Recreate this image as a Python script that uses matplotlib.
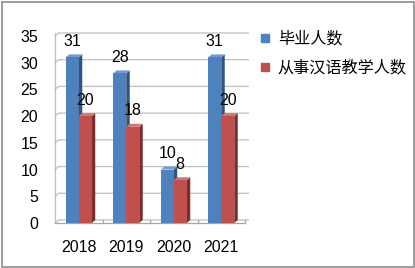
import matplotlib.pyplot as plt
from matplotlib.patches import Rectangle
from matplotlib.lines import Line2D

plt.rcParams['font.family'] = ['Liberation Sans', 'Noto Sans CJK SC']

years = ['2018', '2019', '2020', '2021']
graduates = [31, 28, 10, 31]
teachers = [20, 18, 8, 20]
series_names = ['毕业人数', '从事汉语教学人数']

W, H = 415, 268
fig = plt.figure(figsize=(W / 100, H / 100), dpi=100)
fig.patch.set_facecolor('white')

# plot area in pixels: x 55..245, y 223 (0) .. 36 (35)
ax = fig.add_axes([55 / W, 1 - 223 / H, 190 / W, 187 / H])
ax.set_xlim(-0.5, 3.5)
ax.set_ylim(0, 35)
for s in ax.spines.values():
    s.set_visible(False)

px_x = 4 / 190.0
px_y = 35 / 187.0
dx = 3.5 * px_x
dy = 3 * px_y
w = 13 * px_x

grid_c = '#bfbfbf'
# back wall gridlines and left wall
for v in range(0, 36, 5):
    ax.plot([-0.5, -0.5 + dx, 3.5 + dx], [v, v + dy, v + dy], color=grid_c, lw=0.9,
            clip_on=False, zorder=1)
ax.plot([-0.5, -0.5], [0, 35 + dy], color=grid_c, lw=0.9, clip_on=False, zorder=1)
ax.plot([-0.5, 3.5], [0, 0], color='#a6a6a6', lw=0.9, clip_on=False, zorder=1)
for b in [0.5, 1.5, 2.5, 3.5]:
    ax.plot([b, b], [0, 0.6], color='#a6a6a6', lw=0.9, clip_on=False, zorder=1)


def bar3d(x0, h, front, side, top):
    x1 = x0 + w
    ax.fill([x1, x1 + dx, x1 + dx, x1], [0, dy, h + dy, h], color=side, lw=0, zorder=3)
    ax.fill([x0, x1, x1 + dx, x0 + dx], [h, h, h + dy, h + dy], color=top, lw=0, zorder=3)
    ax.fill([x0, x1, x1, x0], [0, 0, h, h], color=front, lw=0, zorder=3)
    ax.text(x0 + w / 2, h + 16 * px_y, str(h), ha='center', va='center',
            fontsize=11.5, color='black', zorder=4)


for i in range(len(years)):
    bar3d(i - w, graduates[i], '#4f81bd', '#2f5481', '#6f9bd1')
    bar3d(i, teachers[i], '#c0504d', '#7f2d2b', '#d27572')

ax.set_xticks(range(len(years)))
ax.set_xticklabels(years, fontsize=11.5)
ax.set_yticks(range(0, 36, 5))
ax.set_yticklabels([str(v) for v in range(0, 36, 5)], fontsize=11.5)
ax.tick_params(length=0, pad=12)
ax.tick_params(axis='x', pad=12)

handles = [Line2D([], [], marker='s', ls='', color='#4f81bd', markersize=6),
           Line2D([], [], marker='s', ls='', color='#c0504d', markersize=6)]
fig.legend(handles, series_names, loc='upper left', bbox_to_anchor=(260 / W, 1 - 31 / H),
           frameon=False, fontsize=11.6, handlelength=0.6, handletextpad=0.5,
           labelspacing=0.85, borderaxespad=0, borderpad=0)

fig.patches.append(Rectangle((1.5 / W, 1.5 / H), 412 / W, 265 / H, transform=fig.transFigure,
                             fill=False, edgecolor='#8c8c8c', lw=1.2, figure=fig))

fig.savefig('out.png', dpi=100)
